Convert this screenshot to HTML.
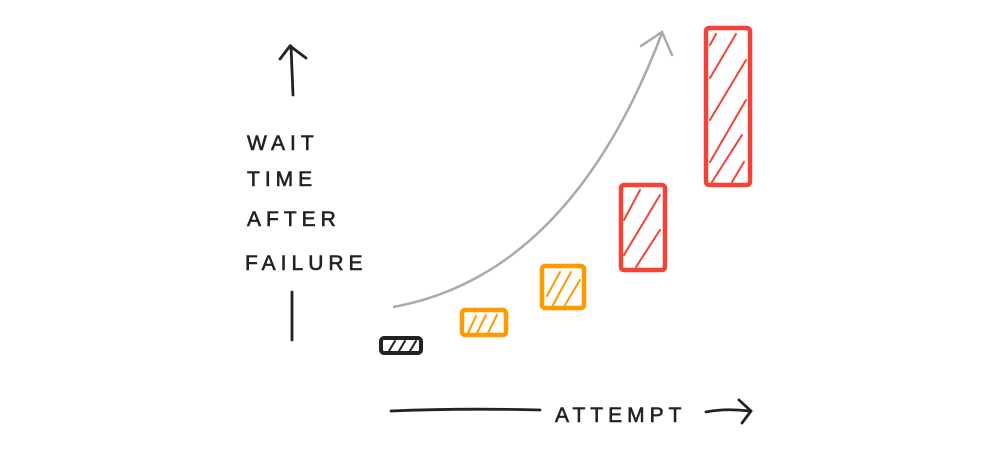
<!DOCTYPE html>
<html><head><meta charset="utf-8"><style>
html,body{margin:0;padding:0;background:#fff;}
svg{display:block;}
text{font-family:"Liberation Sans",sans-serif;font-size:21px;fill:#222;letter-spacing:5px;stroke:#222;stroke-width:0.6;}
</style></head><body>
<svg width="1000" height="450" viewBox="0 0 1000 450" xmlns="http://www.w3.org/2000/svg">
<g stroke="#222" stroke-width="2.8" fill="none" stroke-linecap="round">
<path d="M293 95 Q292 70 291 46"/>
<path d="M280 59 L290 46 L306 58"/>
<path d="M292 292 L292 340"/>
<path d="M391 411 Q460 408 540 410"/>
<path d="M706 412 Q725 408 750 411"/>
<path d="M739 400 L751 411 L742 423"/>
</g>
<text x="247" y="150">WAIT</text>
<text x="247" y="186">TIME</text>
<text x="247" y="226">AFTER</text>
<text x="245" y="270">FAILURE</text>
<text x="555" y="422" letter-spacing="7">ATTEMPT</text>
<path d="M393 307 Q570 275 662 33" stroke="#aaa" stroke-width="2.5" fill="none"/>
<path d="M641 46 L662 32 L672 55" stroke="#aaa" stroke-width="2.5" fill="none" stroke-linecap="round"/>
<g fill="none" stroke-linecap="round">
<rect x="381" y="338" width="40" height="15" rx="3" stroke="#222" stroke-width="4"/>
<path d="M389 351 L395 341 M399 351 L405 341 M410 351 L416 341" stroke="#222" stroke-width="2"/>
<rect x="462" y="310" width="44" height="25" rx="3" stroke="#f90" stroke-width="4.5"/>
<path d="M468 333 L476 316 M477 333 L486 315 M488 333 L497 315" stroke="#f90" stroke-width="2"/>
<rect x="542" y="266" width="42" height="42" rx="3" stroke="#f90" stroke-width="4.5"/>
<path d="M547 296 L560 272 M553 305 L571 272 M565 305 L580 280" stroke="#f90" stroke-width="2"/>
<rect x="621" y="185" width="44" height="85" rx="3" stroke="#f44336" stroke-width="4.5"/>
<path d="M624 220 L640 190 M624 255 L660 195 M636 267 L660 230" stroke="#f44336" stroke-width="2"/>
<rect x="706" y="28" width="44" height="157" rx="3" stroke="#f44336" stroke-width="4.5"/>
<path d="M710 45 L716 34 M710 78 L736 34 M710 120 L746 60 M710 162 L746 100 M712 182 L742 135 M732 182 L744 162" stroke="#f44336" stroke-width="2"/>
</g>
</svg>
</body></html>
